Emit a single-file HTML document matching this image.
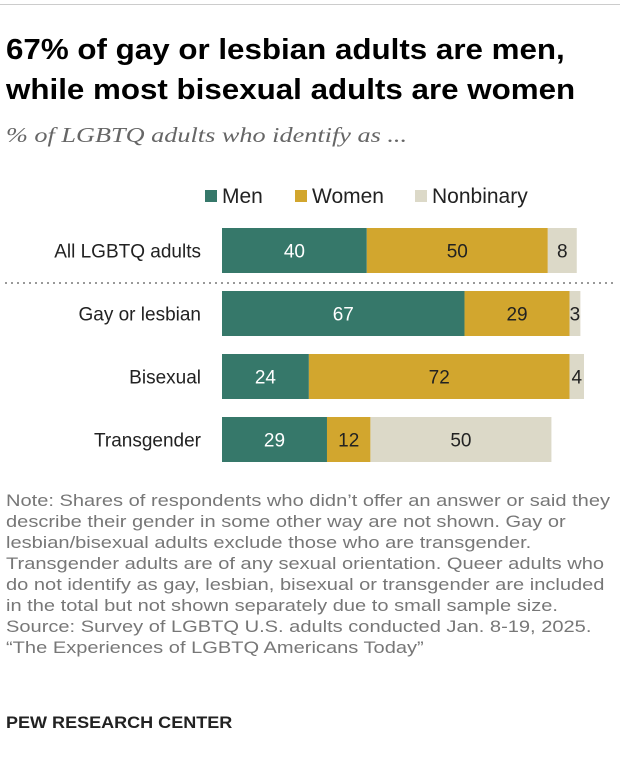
<!DOCTYPE html>
<html><head><meta charset="utf-8"><style>
body{margin:0;width:620px;height:770px;background:#fff;font-family:"Liberation Sans",sans-serif;position:relative;overflow:hidden}
.t{position:absolute;white-space:nowrap;transform-origin:0 0}
</style></head><body>
<div style="position:absolute;left:0;top:4px;width:620px;height:1px;background:#ccc"></div>
<div class="t" style="left:6px;top:30px;font-size:29px;font-weight:bold;line-height:40px;color:#000;transform:scaleX(1.08)">67% of gay or lesbian adults are men,<br>while most bisexual adults are women</div>
<div class="t" style="left:6px;top:123px;font-size:21px;font-style:italic;color:#666;font-family:'Liberation Serif',serif;transform:scaleX(1.25)">% of LGBTQ adults who identify as ...</div>
<svg id="chart" width="620" height="480" style="position:absolute;left:0;top:0"></svg>
<div class="t" style="left:6px;top:490px;font-size:17px;line-height:21px;color:#777;transform:scaleX(1.18)">Note: Shares of respondents who didn’t offer an answer or said they<br>describe their gender in some other way are not shown. Gay or<br>lesbian/bisexual adults exclude those who are transgender.<br>Transgender adults are of any sexual orientation. Queer adults who<br>do not identify as gay, lesbian, bisexual or transgender are included<br>in the total but not shown separately due to small sample size.<br>Source: Survey of LGBTQ U.S. adults conducted Jan. 8-19, 2025.<br>“The Experiences of LGBTQ Americans Today”</div>
<div class="t" style="left:6px;top:713px;font-size:17px;font-weight:bold;color:#222;transform:scaleX(1.06)">PEW RESEARCH CENTER</div>
<script>
const categories=["All LGBTQ adults","Gay or lesbian","Bisexual","Transgender"];
const men=[40,67,24,29];
const women=[50,29,72,12];
const nonbinary=[8,3,4,50];
const seriesNames=["Men","Women","Nonbinary"];
const colors=["#36786a","#d2a62e","#dcd9c8"];
const textColors=["#fff","#222","#222"];
const svg=document.getElementById('chart');
const NS="http://www.w3.org/2000/svg";
const x0=222,scale=3.62;
const xs=v=>v*scale;
const rowTop=[228,291,354,417];
const bh=45;
function el(tag,attrs,txt){const e=document.createElementNS(NS,tag);for(const k in attrs)e.setAttribute(k,attrs[k]);if(txt!==undefined)e.textContent=txt;svg.appendChild(e);return e;}
const lx=[205,295,415];
seriesNames.forEach((n,i)=>{
 const r=el('rect',{x:lx[i],y:190,width:12,height:12,fill:colors[i]});
 
 
 const t=el('text',{x:lx[i]+17,y:203,'font-size':21,fill:'#222','font-family':'Liberation Sans'},n);
 
 
});
const sep=el('line',{x1:5,x2:615,y1:283,y2:283,stroke:'#999','stroke-width':2,'stroke-dasharray':'2,4'});


categories.forEach((c,i)=>{
 const y=rowTop[i];
 const lab=el('text',{x:201,y:y+bh/2+7,'text-anchor':'end','font-size':19,fill:'#222','font-family':'Liberation Sans'},c);
 
 
 let x=x0;
 [men[i],women[i],nonbinary[i]].forEach((v,j)=>{
  const w=xs(v);
  const r=el('rect',{x:x,y:y,width:w,height:bh,fill:colors[j]});
  
  
  const t=el('text',{x:x+w/2,y:y+bh/2+7,'text-anchor':'middle','font-size':19,fill:textColors[j],'font-family':'Liberation Sans'},v);
  
  
  x+=w;
 });
});
</script>
</body></html>
